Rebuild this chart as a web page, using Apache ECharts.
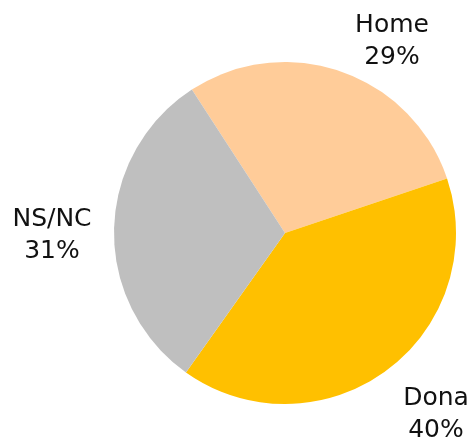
<!DOCTYPE html>
<html>
<head>
<meta charset="utf-8">
<script src="https://cdn.jsdelivr.net/npm/echarts@6/dist/echarts.min.js"></script>
<style>
  html, body { margin: 0; padding: 0; background: #fff; }
  #chart { width: 476px; height: 440px; }
</style>
</head>
<body>
<div id="chart"></div>
<script>
// categories and shares (%)
const categories = ["Home", "Dona", "NS/NC"];
const shares = [29, 40, 31];
const colors = ["#FFCC99", "#FFC000", "#BFBFBF"];

// where each label's centre sits
const labelSpots = [[392, 41], [436, 414], [52, 235]];

const chart = echarts.init(document.getElementById("chart"));
chart.setOption({
  animation: false,
  series: [
    {
      type: "pie",
      center: [285, 233],
      radius: 171,
      startAngle: 123,
      clockwise: true,
      data: categories.map((name, i) => ({
        name: name,
        value: shares[i],
        itemStyle: { color: colors[i] },
      })),
      label: {
        show: true,
        position: "outside",
        formatter: "{b}\n{c}%",
        fontFamily: "DejaVu Sans",
        fontSize: 25,
        lineHeight: 32,
        color: "#111",
        align: "center",
        overflow: "none",
        width: 120,
      },
      labelLine: { show: false },
      labelLayout: function (params) {
        const p = labelSpots[params.dataIndex];
        return { x: p[0], y: p[1], align: "center", verticalAlign: "middle" };
      },
      emphasis: { disabled: true },
    },
  ],
});
</script>
</body>
</html>
